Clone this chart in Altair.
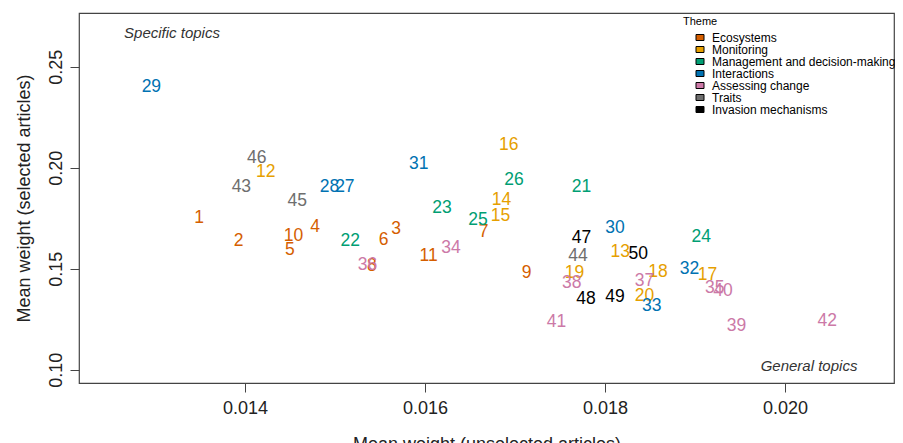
import altair as alt
import pandas as pd

topics = list(range(1, 51))

mean_unselected = [
    0.01349, 0.01393, 0.01568, 0.01478, 0.01450, 0.01554, 0.01665, 0.01541, 0.01713, 0.01454,
    0.01604, 0.01423, 0.01817, 0.01685, 0.01684, 0.01693, 0.01914, 0.01859, 0.01766, 0.01844,
    0.01774, 0.01517, 0.01619, 0.01907, 0.01659, 0.01699, 0.01511, 0.01494, 0.01296, 0.01811,
    0.01593, 0.01894, 0.01852, 0.01629, 0.01922, 0.01536, 0.01844, 0.01763, 0.01946, 0.01931,
    0.01746, 0.02047, 0.01396, 0.01770, 0.01458, 0.01413, 0.01774, 0.01779, 0.01811, 0.01837,
]

mean_selected = [
    0.1751, 0.1639, 0.1697, 0.1705, 0.1591, 0.1644, 0.1680, 0.1511, 0.1479, 0.1663,
    0.1565, 0.1977, 0.1581, 0.1838, 0.1762, 0.2114, 0.1470, 0.1484, 0.1479, 0.1366,
    0.1905, 0.1635, 0.1802, 0.1658, 0.1739, 0.1941, 0.1903, 0.1903, 0.2400, 0.1702,
    0.2016, 0.1500, 0.1317, 0.1600, 0.1405, 0.1520, 0.1437, 0.1429, 0.1214, 0.1388,
    0.1236, 0.1239, 0.1903, 0.1561, 0.1837, 0.2048, 0.1652, 0.1352, 0.1360, 0.1574,
]

theme_names = [
    "Ecosystems", "Monitoring", "Management and decision-making", "Interactions",
    "Assessing change", "Traits", "Invasion mechanisms",
]
theme_colors = ["#D55E00", "#E69F00", "#009E73", "#0072B2", "#CC79A7", "#6E6E6E", "#000000"]
theme_counts = [11, 9, 6, 7, 9, 4, 4]

themes = []
for name, n in zip(theme_names, theme_counts):
    themes += [name] * n

x_ticks = [0.014, 0.016, 0.018, 0.020]
y_ticks = [0.10, 0.15, 0.20, 0.25]
x_domain = [0.012156, 0.021211]
y_domain = [0.0934, 0.2766]

note_text = ["Specific topics", "General topics"]
note_x = [0.013189, 0.020267]
note_y = [0.26683, 0.10198]

df = pd.DataFrame({
    "topic": [str(t) for t in topics],
    "unsel": mean_unselected,
    "sel": mean_selected,
    "Theme": themes,
})
notes = pd.DataFrame({"text": note_text, "x": note_x, "y": note_y})

FONT = "Liberation Sans"

xscale = alt.Scale(domain=x_domain, nice=False, zero=False)
yscale = alt.Scale(domain=y_domain, nice=False, zero=False)

rect_path = "M-1,-0.75H1V0.75H-1Z"

labels = alt.Chart(df).mark_text(
    font=FONT, fontSize=17.5, align="center", baseline="middle"
).encode(
    x=alt.X("unsel:Q", scale=xscale,
            axis=alt.Axis(values=x_ticks, format=".3f", title="Mean weight (unselected articles)",
                          titleY=66, titleBaseline="alphabetic")),
    y=alt.Y("sel:Q", scale=yscale,
            axis=alt.Axis(values=y_ticks, format=".2f", title="Mean weight (selected articles)",
                          labelAngle=270, labelAlign="center", labelBaseline="middle",
                          labelPadding=14,
                          titleAngle=270, titleX=-50, titleY=185, titleAlign="center",
                          titleBaseline="alphabetic")),
    color=alt.Color("Theme:N", scale=alt.Scale(domain=theme_names, range=theme_colors),
                    legend=alt.Legend(title="Theme")),
    text="topic:N",
)

note_layer = alt.Chart(notes).mark_text(
    font=FONT, fontSize=15, fontStyle="italic", color="#333333", align="center", baseline="middle"
).encode(
    x=alt.X("x:Q", scale=xscale),
    y=alt.Y("y:Q", scale=yscale),
    text="text:N",
)

chart = alt.layer(labels, note_layer).properties(
    width=815, height=370,
    autosize=alt.AutoSizeParams(type="none"),
    padding={"left": 71, "top": 5, "right": 1, "bottom": 60},
).configure_view(
    stroke="#444444", strokeWidth=1.2
).configure_axis(
    domain=False, grid=False, tickSize=9, tickColor="#444444", tickWidth=1,
    labelFont=FONT, labelFontSize=18, labelColor="#222222", labelPadding=7,
    titleFont=FONT, titleFontSize=18, titleFontWeight="normal", titleColor="#222222",
).configure_legend(
    orient="none", legendX=604, legendY=3, padding=0,
    titleFont=FONT, titleFontSize=11, titleFontWeight="normal", titleColor="#000000",
    titlePadding=4.5,
    labelFont=FONT, labelFontSize=12, labelColor="#000000", labelOffset=6, labelLimit=300,
    rowPadding=-1.8, symbolType=rect_path, symbolSize=64, symbolStrokeColor="#000000",
    symbolStrokeWidth=1, symbolOffset=11,
)

chart.save("out.html", embed_options={"renderer": "svg", "actions": False})
